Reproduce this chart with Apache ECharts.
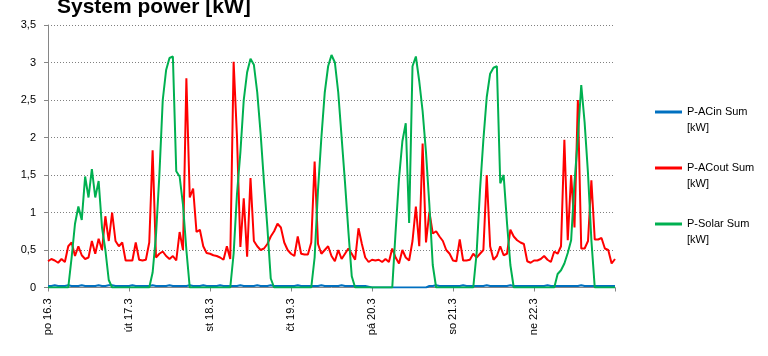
<!DOCTYPE html>
<html><head><meta charset="utf-8">
<script src="https://cdn.jsdelivr.net/npm/echarts@6/dist/echarts.min.js"></script>
<style>html,body{margin:0;padding:0;background:#fff;}#c{width:768px;height:356px;}</style>
</head><body><div id="c"></div>
<script>
// Day labels (tick labels), hourly samples
const days = ['po 16.3','út 17.3','st 18.3','čt 19.3','pá 20.3','so 21.3','ne 22.3','po 23.3'];
const yTicks = [0, 0.5, 1, 1.5, 2, 2.5, 3, 3.5];
const seriesNames = ['P-ACin Sum [kW]', 'P-ACout Sum [kW]', 'P-Solar Sum [kW]'];

const acIn = [
 0.02,0.02,0.03,0.02,0.02,0.02,0.03,0.02,0.02,0.02,0.03,0.02,0.02,0.02,0.02,0.03,0.02,0.02,0.03,0.03,0.02,0.02,0.02,0.02,
 0.02,0.03,0.02,0.02,0.02,0.02,0.02,0.03,0.02,0.02,0.02,0.02,0.03,0.02,0.02,0.02,0.02,0.02,0.03,0.02,0.02,0.02,0.03,0.02,
 0.02,0.02,0.02,0.03,0.02,0.02,0.02,0.02,0.02,0.03,0.02,0.02,0.02,0.02,0.03,0.02,0.02,0.02,0.03,0.02,0.02,0.02,0.02,0.02,
 0.02,0.02,0.03,0.02,0.02,0.02,0.02,0.02,0.02,0.03,0.02,0.02,0.02,0.02,0.02,0.03,0.02,0.02,0.02,0.02,0.02,0.02,0.02,0.01,
 0,0,0,0,0,0,0,0,0,0,0,0,0,0,0,0,0,0.02,0.02,0.03,0.02,0.02,0.02,0.02,
 0.02,0.02,0.02,0.03,0.02,0.02,0.02,0.02,0.02,0.02,0.03,0.02,0.02,0.02,0.02,0.02,0.02,0.03,0.02,0.02,0.02,0.02,0.02,0.02,
 0.02,0.02,0.02,0.02,0.03,0.02,0.02,0.02,0.02,0.02,0.02,0.02,0.02,0.02,0.03,0.02,0.02,0.02,0.02,0.02,0.02,0.02,0.02,0.02,
 0.02
];
const acOut = [
 0.35,0.38,0.36,0.33,0.38,0.34,0.55,0.6,0.42,0.55,0.43,0.38,0.4,0.62,0.45,0.65,0.5,0.95,0.62,1.0,0.62,0.55,0.6,0.36,
 0.36,0.36,0.6,0.37,0.36,0.37,0.6,1.83,0.4,0.45,0.48,0.42,0.38,0.42,0.36,0.74,0.5,2.79,1.2,1.32,0.74,0.77,0.55,0.46,
 0.45,0.43,0.42,0.4,0.37,0.55,0.38,3.01,2.0,0.54,1.19,0.41,1.46,0.62,0.55,0.5,0.52,0.58,0.68,0.75,0.85,0.8,0.6,0.5,
 0.45,0.42,0.68,0.45,0.44,0.44,0.6,1.68,0.58,0.45,0.5,0.55,0.42,0.35,0.5,0.38,0.45,0.52,0.45,0.37,0.79,0.58,0.4,0.34,
 0.37,0.36,0.37,0.34,0.38,0.34,0.52,0.4,0.32,0.5,0.4,0.36,0.62,1.08,0.55,1.92,0.6,1.01,0.72,0.75,0.68,0.62,0.5,0.45,
 0.36,0.35,0.64,0.36,0.36,0.37,0.45,0.4,0.45,0.5,1.5,0.55,0.37,0.42,0.55,0.43,0.45,0.77,0.68,0.63,0.6,0.58,0.35,0.33,
 0.36,0.36,0.38,0.42,0.37,0.34,0.48,0.45,0.55,1.97,0.63,1.5,0.8,2.5,0.52,0.52,0.62,1.43,0.64,0.64,0.66,0.52,0.5,0.32,
 0.38
];
const solar = [
 0,0,0,0,0,0,0,0.4,0.85,1.08,0.9,1.48,1.2,1.58,1.2,1.42,0.8,0.5,0.1,0,0,0,0,0,
 0,0,0,0,0,0,0,0.2,0.7,1.5,2.5,2.9,3.06,3.08,1.55,1.48,1.1,0.5,0,0,0,0,0,0,
 0,0,0,0,0,0,0,0.45,1.25,1.8,2.5,2.87,3.05,2.97,2.6,2.05,1.4,0.8,0.12,0,0,0,0,0,
 0,0,0,0,0,0,0,0.4,1.3,2.0,2.6,2.95,3.1,3.0,2.6,2.0,1.4,0.75,0.15,0,0,0,0,0,
 0,0,0,0,0,0,0,0.75,1.45,1.95,2.19,0.86,2.95,3.08,2.75,2.35,1.8,1.1,0.3,0,0,0,0,0,
 0,0,0,0,0,0,0,0.46,1.3,1.97,2.54,2.85,2.93,2.95,1.39,1.5,0.86,0.3,0,0,0,0,0,0,
 0,0,0,0,0,0,0,0.18,0.23,0.32,0.46,0.63,1.4,2.0,2.7,2.2,1.52,0.63,0,0,0,0,0,0,
 0
];

const categories = [];
for (let d = 0; d < 7; d++) for (let h = 0; h < 24; h++) categories.push(days[d] + ' ' + h + ':00');
categories.push(days[7] + ' 0:00');

const colors = ['#0070C0', '#FF0000', '#00B050'];
const FONT = '"Liberation Sans", Arial, sans-serif';
const chart = echarts.init(document.getElementById('c'), null, {renderer: 'canvas'});
const isDay = (i) => i % 24 === 0;

chart.setOption({
  animation: false,
  title: {
    text: 'System power [kW]', left: 52, top: -8,
    textStyle: {fontFamily: FONT, fontSize: 21, fontWeight: 'bold', color: '#000'}
  },
  legend: {
    orient: 'vertical', left: 655, top: 88, padding: 0, itemGap: 8,
    itemWidth: 27, itemHeight: 3,
    data: seriesNames.map(n => ({name: n, icon: 'rect'})),
    formatter: n => ' \n' + n.replace(' [', '\n['),
    textStyle: {fontFamily: FONT, fontSize: 11, color: '#000', lineHeight: 16}
  },
  grid: {left: 48, right: 153, top: 25, bottom: 68.5, containLabel: false},
  xAxis: {
    type: 'category', data: categories, boundaryGap: false,
    axisLine: {lineStyle: {color: '#868686', width: 1}},
    axisTick: {show: true, length: 4, interval: (i) => isDay(i), lineStyle: {color: '#868686'}},
    axisLabel: {
      interval: (i) => isDay(i), rotate: 90, margin: 11,
      fontFamily: FONT, fontSize: 11, color: '#000',
      formatter: (v, i) => (i === categories.length - 1 ? '' : v.split(' ').slice(0, 2).join(' '))
    },
    splitLine: {show: false}
  },
  yAxis: {
    type: 'value', min: yTicks[0], max: yTicks[yTicks.length - 1], interval: 0.5,
    axisLine: {show: true, lineStyle: {color: '#868686', width: 1}},
    axisTick: {show: true, length: 4, lineStyle: {color: '#868686'}},
    axisLabel: {fontFamily: FONT, fontSize: 11, color: '#000', margin: 12,
      formatter: v => String(v).replace('.', ',')},
    splitLine: {show: true, lineStyle: {color: '#808080', width: 1, type: [1, 2]}}
  },
  series: [
    {name: seriesNames[0], type: 'line', data: acIn, showSymbol: false, lineStyle: {color: colors[0], width: 2}, itemStyle: {color: colors[0]}},
    {name: seriesNames[1], type: 'line', data: acOut, showSymbol: false, lineStyle: {color: colors[1], width: 2}, itemStyle: {color: colors[1]}},
    {name: seriesNames[2], type: 'line', data: solar, showSymbol: false, lineStyle: {color: colors[2], width: 2}, itemStyle: {color: colors[2]}}
  ]
});
</script></body></html>
